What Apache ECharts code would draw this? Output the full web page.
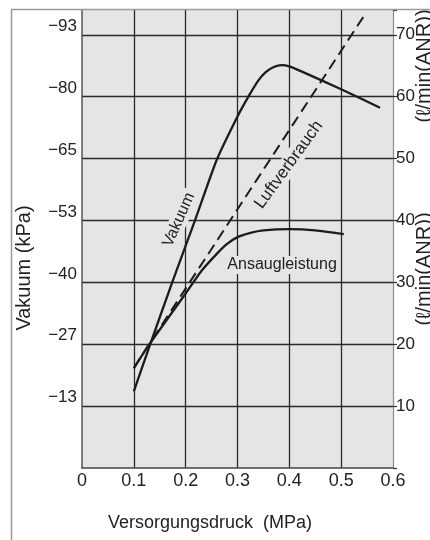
<!DOCTYPE html>
<html>
<head>
<meta charset="utf-8">
<script src="https://cdn.jsdelivr.net/npm/echarts@6/dist/echarts.min.js"></script>
<style>
  html, body { margin: 0; padding: 0; background: #ffffff; }
  #chart { width: 430px; height: 540px; }
</style>
</head>
<body>
<div id="chart"></div>
<script>
// Axis tick labels
const pressureTicks = ['0', '0.1', '0.2', '0.3', '0.4', '0.5', '0.6'];
const vakuumTicks = ['\u221213', '\u221227', '\u221240', '\u221253', '\u221265', '\u221280', '\u221293'];
const flowTicks = ['10', '20', '30', '40', '50', '60', '70'];

// Vakuum curve (plotted on the shared grid scale)
const vakuumPressure = [0.10, 0.13, 0.174, 0.218, 0.26, 0.30, 0.321, 0.34, 0.355, 0.37, 0.385, 0.40, 0.42, 0.50, 0.575];
const vakuumLevel    = [12.4, 19.6, 30.0, 40.0, 49.8, 56.8, 60.0, 62.6, 64.0, 64.8, 65.1, 64.9, 64.2, 61.2, 58.2];

// Ansaugleistung (l/min ANR)
const ansaugPressure = [0.10, 0.13, 0.20, 0.23, 0.26, 0.28, 0.30, 0.325, 0.35, 0.40, 0.45, 0.505];
const ansaugFlow     = [16.1, 20.0, 28.2, 31.8, 34.6, 36.2, 37.3, 38.0, 38.4, 38.6, 38.4, 37.8];

// Luftverbrauch (l/min ANR)
const luftPressure = [0.10, 0.546];
const luftFlow     = [16.2, 73.3];

const zip = (xs, ys) => xs.map((x, i) => [x, ys[i]]);

const FONT = '"Liberation Sans", Arial, Helvetica, sans-serif';
const PLOT_BG = '#e5e5e5';
const INK = '#1c1c1c';

const chart = echarts.init(document.getElementById('chart'));

chart.setOption({
  animation: false,
  backgroundColor: '#ffffff',
  grid: {
    left: 82, right: 37, top: 10, bottom: 72,
    show: true, backgroundColor: PLOT_BG, borderWidth: 0
  },
  xAxis: {
    type: 'value', min: 0, max: 0.6, interval: 0.1,
    axisLine: { show: true, lineStyle: { color: '#444', width: 1.5 } },
    axisTick: { show: false },
    splitLine: { show: true, showMinLine: false, showMaxLine: false,
                 lineStyle: { color: '#2a2a2a', width: 1.3 } },
    axisLabel: {
      margin: 4, fontSize: 18, color: '#222', fontFamily: FONT,
      formatter: v => pressureTicks[Math.round(v * 10)] ?? ''
    }
  },
  yAxis: [
    {
      type: 'value', position: 'left', min: 0, max: 74, interval: 10,
      axisLine: { show: true, lineStyle: { color: '#555', width: 1.5 } },
      axisTick: { show: false },
      splitLine: { show: true, showMinLine: false, showMaxLine: false,
                   lineStyle: { color: '#2a2a2a', width: 1.3 } },
      axisLabel: {
        margin: 5, fontSize: 17, color: '#222', fontFamily: FONT,
        verticalAlign: 'bottom',
        formatter: v => {
          const i = Math.round(v / 10) - 1;
          return (v > 0 && v <= 70) ? vakuumTicks[i] : '';
        }
      }
    },
    {
      type: 'value', position: 'right', min: 0, max: 74, interval: 10,
      axisLine: { show: true, lineStyle: { color: '#8c8c8c', width: 1.2 } },
      axisTick: { show: true, length: 4, lineStyle: { color: '#333', width: 1.2 } },
      splitLine: { show: false },
      axisLabel: {
        margin: 3, fontSize: 17, color: '#222', fontFamily: FONT,
        formatter: v => {
          const i = Math.round(v / 10) - 1;
          return (v > 0 && v <= 70) ? flowTicks[i] : '';
        }
      }
    }
  ],
  series: [
    {
      name: 'Vakuum', type: 'line', yAxisIndex: 0,
      data: zip(vakuumPressure, vakuumLevel),
      smooth: 0.2, showSymbol: false, symbol: 'none',
      lineStyle: { color: INK, width: 2.3, join: 'round' }, z: 5
    },
    {
      name: 'Ansaugleistung', type: 'line', yAxisIndex: 1,
      data: zip(ansaugPressure, ansaugFlow),
      smooth: 0.2, showSymbol: false, symbol: 'none',
      lineStyle: { color: INK, width: 2.3, join: 'round' }, z: 5
    },
    {
      name: 'Luftverbrauch', type: 'line', yAxisIndex: 1,
      data: zip(luftPressure, luftFlow),
      showSymbol: false, symbol: 'none',
      lineStyle: { color: INK, width: 2, type: [11, 6] }, z: 4
    }
  ]
});

// Curve captions, anchored in data coordinates
const curveLabels = [
  { text: 'Vakuum',         at: [0.187, 40.1], angle: 66, size: 16 },
  { text: 'Luftverbrauch',  at: [0.399, 49.0], angle: 54, size: 17 },
  { text: 'Ansaugleistung', at: [0.386, 32.8], angle: 0,  size: 16 }
];

const graphics = curveLabels.map(l => {
  const p = chart.convertToPixel({ xAxisIndex: 0, yAxisIndex: 1 }, l.at);
  return {
    type: 'text', x: p[0], y: p[1], rotation: l.angle * Math.PI / 180, z: 1,
    style: {
      text: l.text, font: l.size + 'px ' + FONT, fill: '#222',
      align: 'center', verticalAlign: 'middle',
      backgroundColor: PLOT_BG, padding: [1, 3]
    }
  };
});

// Axis titles
graphics.push(
  { type: 'text', x: 24, y: 268, rotation: Math.PI / 2, z: 3,
    style: { text: 'Vakuum (kPa)', font: '20px ' + FONT, fill: '#222',
             align: 'center', verticalAlign: 'middle' } },
  { type: 'text', x: 108, y: 523, z: 3,
    style: { text: 'Versorgungsdruck  (MPa)', font: '18px ' + FONT, fill: '#222',
             align: 'left', verticalAlign: 'middle' } },
  { type: 'text', x: 424, y: 66, rotation: Math.PI / 2, z: 3,
    style: { text: '(\u2113/min(ANR))', font: '20px ' + FONT, fill: '#222',
             align: 'center', verticalAlign: 'middle' } },
  { type: 'text', x: 424, y: 269, rotation: Math.PI / 2, z: 3,
    style: { text: '(\u2113/min(ANR))', font: '20px ' + FONT, fill: '#222',
             align: 'center', verticalAlign: 'middle' } },
  // outer frame
  { type: 'polyline', z: 6,
    shape: { points: [[11.5, 540], [11.5, 9.5], [430, 9.5]] },
    style: { stroke: '#9a9a9a', lineWidth: 1.5, fill: null } }
);

chart.setOption({ graphic: graphics });
</script>
</body>
</html>
